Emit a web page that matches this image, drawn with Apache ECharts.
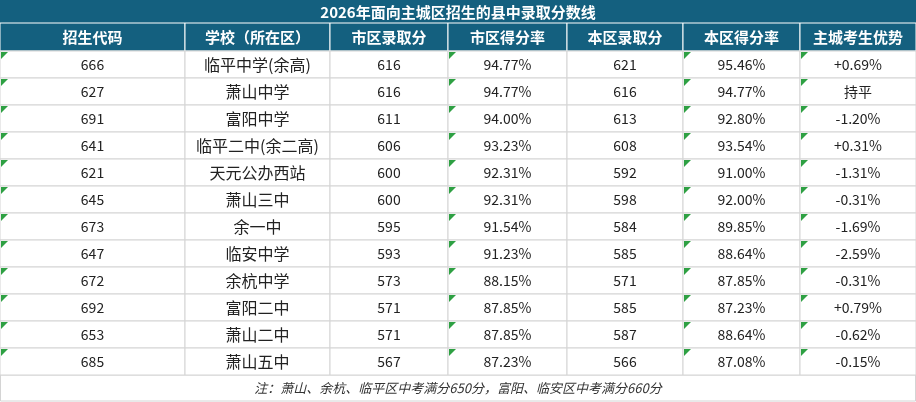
<!DOCTYPE html>
<html>
<head>
<meta charset="utf-8">
<script src="https://cdn.jsdelivr.net/npm/echarts@6/dist/echarts.min.js"></script>
<style>html,body{margin:0;padding:0;background:#fff}#c{width:916px;height:402px}</style>
</head>
<body>
<div id="c"></div>
<script>
var title = '2026年面向主城区招生的县中录取分数线'
var headers = ['招生代码', '学校（所在区）', '市区录取分', '市区得分率', '本区录取分', '本区得分率', '主城考生优势']
var codes = ['666', '627', '691', '641', '621', '645', '673', '647', '672', '692', '653', '685']
var schools = ['临平中学(余高)', '萧山中学', '富阳中学', '临平二中(余二高)', '天元公办西站', '萧山三中', '余一中', '临安中学', '余杭中学', '富阳二中', '萧山二中', '萧山五中']
var cityScore = [616, 616, 611, 606, 600, 600, 595, 593, 573, 571, 571, 567]
var cityRate = ['94.77%', '94.77%', '94.00%', '93.23%', '92.31%', '92.31%', '91.54%', '91.23%', '88.15%', '87.85%', '87.85%', '87.23%']
var localScore = [621, 616, 613, 608, 592, 598, 584, 585, 571, 585, 587, 566]
var localRate = ['95.46%', '94.77%', '92.80%', '93.54%', '91.00%', '92.00%', '89.85%', '88.64%', '87.85%', '87.23%', '88.64%', '87.08%']
var advantage = ['+0.69%', '持平', '-1.20%', '+0.31%', '-1.31%', '-0.31%', '-1.69%', '-2.59%', '-0.31%', '+0.79%', '-0.62%', '-0.15%']
var note = '注：萧山、余杭、临平区中考满分650分，富阳、临安区中考满分660分'

// layout
var colEdges = [0, 185, 330, 448, 567, 683, 800, 916]
var markCols = [0, 3, 5, 6]
var titleH = 23, headH = 28, rowH = 27
var dark = '#14607f'

var columns = [codes, schools, cityScore, cityRate, localScore, localRate, advantage]
var cells = []
for (var r = 0; r < codes.length; r++) {
  for (var c = 0; c < columns.length; c++) cells.push([c, r, String(columns[c][r])])
}
var headCells = headers.map(function (h, i) { return [i, -1, h] })

function rowTop(r) { return r < 0 ? titleH : titleH + headH + r * rowH }

var chart = echarts.init(document.getElementById('c'))
chart.setOption({
  animation: false,
  grid: {left: 0, right: 0, top: 0, bottom: 0},
  xAxis: {type: 'value', min: 0, max: 916, show: false},
  yAxis: {type: 'value', min: 0, max: 402, inverse: true, show: false},
  series: [{
    type: 'custom',
    data: headCells.concat(cells),
    renderItem: function (params, api) {
      var c = api.value(0), r = api.value(1)
      var txt = params.dataIndex < headCells.length ? headers[c] : cells[params.dataIndex - headCells.length][2]
      var p0 = api.coord([colEdges[c], rowTop(r)])
      var p1 = api.coord([colEdges[c + 1], rowTop(r) + (r < 0 ? headH : rowH)])
      var head = r < 0
      var kids = [{
        type: 'rect',
        shape: {x: p0[0], y: p0[1], width: p1[0] - p0[0], height: p1[1] - p0[1]},
        style: head ? {fill: dark, stroke: '#ffffff', lineWidth: 1} : {fill: '#fff', stroke: '#d4d4d4', lineWidth: 1}
      }, {
        type: 'text',
        style: {
          x: (p0[0] + p1[0]) / 2, y: (p0[1] + p1[1]) / 2, text: txt,
          align: 'center', verticalAlign: 'middle',
          fill: head ? '#fff' : '#222',
          font: (head ? 'bold 15px' : (c === 1 ? '16px' : '14px')) + ' "Noto Sans CJK SC", sans-serif'
        }
      }]
      if (!head && markCols.indexOf(c) >= 0) {
        kids.push({
          type: 'polygon',
          shape: {points: [[p0[0] + 1, p0[1] + 1], [p0[0] + 8, p0[1] + 1], [p0[0] + 1, p0[1] + 8]]},
          style: {fill: '#2ea043'}
        })
      }
      return {type: 'group', children: kids}
    }
  }],
  graphic: [
    {type: 'rect', shape: {x: 0, y: 0, width: 916, height: titleH}, style: {fill: dark}},
    {type: 'text', style: {x: 458, y: titleH / 2 + 1, text: title, align: 'center', verticalAlign: 'middle', fill: '#fff', font: 'bold 15px "Noto Sans CJK SC", sans-serif'}},
    {type: 'rect', shape: {x: 0.5, y: titleH + headH + 12 * rowH, width: 915, height: 26}, style: {fill: '#fff', stroke: '#d4d4d4', lineWidth: 1}},
    {type: 'text', style: {x: 458, y: titleH + headH + 12 * rowH + 13, text: note, align: 'center', verticalAlign: 'middle', fill: '#333', font: 'italic 13px "Noto Sans CJK SC", sans-serif'}}
  ]
})
</script>
</body>
</html>
